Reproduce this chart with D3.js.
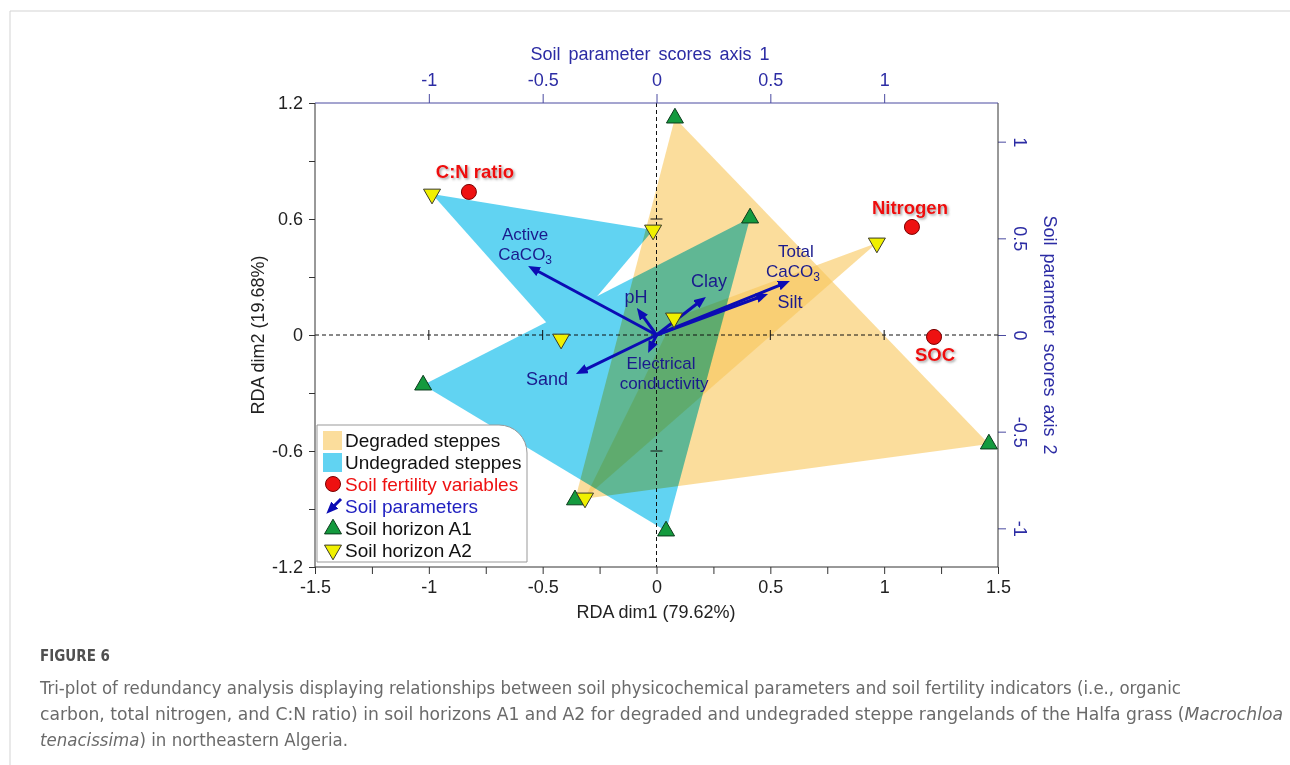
<!DOCTYPE html>
<html>
<head>
<meta charset="utf-8">
<script src="https://cdn.jsdelivr.net/npm/d3@7"></script>
<style>
  html, body { margin: 0; padding: 0; background: #fff; }
  svg { display: block; font-family: "Liberation Sans", Arial, sans-serif; }
</style>
</head>
<body>
<svg id="chart" width="1290" height="765"></svg>
<script>
// ---- RDA tri-plot data ----
// Site scores, soil horizon A1 (RDA dim1, dim2)
const horizonA1X = [0.081, 0.411, -1.025, -0.358, 0.042, 1.460];
const horizonA1Y = [1.122, 0.605, -0.259, -0.853, -1.014, -0.564];
// Site scores, soil horizon A2
const horizonA2X = [-0.986, -0.015, -0.419, 0.077, -0.314, 0.968];
const horizonA2Y = [0.729, 0.543, -0.021, 0.088, -0.843, 0.476];

// Hull membership per steppe type (indices into the horizon arrays)
const degradedA1 = [0, 5, 3];
const degradedA2 = [5, 3, 4];
const undegradedA1 = [2, 1, 4];
const undegradedA2 = [0, 1, 2];

// Soil fertility variables
const fertilityNames = ["C:N ratio", "Nitrogen", "SOC"];
const fertilityX = [-0.824, 1.122, 1.219];
const fertilityY = [0.740, 0.559, -0.010];

// Soil parameter scores (axis 1, axis 2)
const parameterNames = [["Active", "CaCO3"], ["pH"], ["Clay"], ["Total", "CaCO3"], ["Silt"], ["Sand"], ["Electrical", "conductivity"]];
const parameterX = [-0.564, -0.086, 0.217, 0.586, 0.490, -0.354, -0.037];
const parameterY = [0.357, 0.140, 0.197, 0.279, 0.212, -0.202, -0.093];

// Tick labels
const dim1Ticks = [-1.5, -1, -0.5, 0, 0.5, 1, 1.5];
const dim2Ticks = [-1.2, -0.6, 0, 0.6, 1.2];
const scoreTicks = [-1, -0.5, 0, 0.5, 1];

const legendItems = ["Degraded steppes", "Undegraded steppes", "Soil fertility variables", "Soil parameters", "Soil horizon A1", "Soil horizon A2"];

const captionTitle = "FIGURE 6";

// ---- layout ----
const svg = d3.select("#chart");
const plot = { left: 315, right: 998, top: 103, bottom: 567 };
const x = d3.scaleLinear().domain([-1.5, 1.5]).range([plot.left, plot.right]);
const y = d3.scaleLinear().domain([-1.2, 1.2]).range([plot.bottom, plot.top]);
// secondary (soil parameter score) axes share the same extent
const xs = d3.scaleLinear().domain([-1.5, 1.5]).range([plot.left, plot.right]);
const ys = d3.scaleLinear().domain([-1.2, 1.2]).range([plot.bottom, plot.top]);

const NAVY = "#2c2ca4";
const ARROW = "#0c0cb4";
const ARROW_TEXT = "#1a1a8c";
const ORANGE = "#f9c65a", ORANGE_OP = 0.6;
const BLUE = "#1ec0ec", BLUE_OP = 0.7;

const defs = svg.append("defs");
defs.append("marker")
  .attr("id", "arrowhead")
  .attr("viewBox", "0 0 12 10")
  .attr("refX", 4).attr("refY", 5)
  .attr("markerWidth", 12).attr("markerHeight", 10)
  .attr("markerUnits", "userSpaceOnUse")
  .attr("orient", "auto")
  .append("path").attr("d", "M0,0 L12,5 L0,10 Z").attr("fill", ARROW);
const shadow = defs.append("filter").attr("id", "soft").attr("x", "-20%").attr("y", "-40%").attr("width", "140%").attr("height", "180%");
shadow.append("feDropShadow").attr("dx", 1.5).attr("dy", 1.5).attr("stdDeviation", 1.2)
  .attr("flood-color", "#555").attr("flood-opacity", 0.55);

// card outline
svg.append("line").attr("x1", 10).attr("x2", 1290).attr("y1", 11).attr("y2", 11).attr("stroke", "#d3d3d3");
svg.append("line").attr("x1", 10).attr("x2", 10).attr("y1", 11).attr("y2", 765).attr("stroke", "#d3d3d3");

// ---- hulls ----
const hullPath = (idx, xs_, ys_) => "M" + idx.map(i => x(xs_[i]) + "," + y(ys_[i])).join("L") + "Z";

const orangeG = svg.append("g");
[hullPath(degradedA1, horizonA1X, horizonA1Y), hullPath(degradedA2, horizonA2X, horizonA2Y)].forEach(d => {
  orangeG.append("path").attr("d", d).attr("fill", ORANGE).attr("fill-opacity", ORANGE_OP);
});
const blueG = svg.append("g").attr("opacity", BLUE_OP).style("mix-blend-mode", "multiply");
[hullPath(undegradedA1, horizonA1X, horizonA1Y), hullPath(undegradedA2, horizonA2X, horizonA2Y)].forEach(d => {
  blueG.append("path").attr("d", d).attr("fill", BLUE);
});

// ---- zero reference lines with cross ticks ----
const ref = svg.append("g").attr("stroke", "#111").attr("stroke-width", 1);
ref.append("line").attr("x1", x(0)).attr("x2", x(0)).attr("y1", plot.top).attr("y2", plot.bottom).attr("stroke-dasharray", "4,3");
ref.append("line").attr("x1", plot.left).attr("x2", plot.right).attr("y1", y(0)).attr("y2", y(0)).attr("stroke-dasharray", "4,3");
[-1, -0.5, 0.5, 1].forEach(v => ref.append("line").attr("x1", x(v)).attr("x2", x(v)).attr("y1", y(0) - 5).attr("y2", y(0) + 5));
[-0.6, 0.6].forEach(v => ref.append("line").attr("x1", x(0) - 6).attr("x2", x(0) + 6).attr("y1", y(v)).attr("y2", y(v)));

// ---- axes ----
const near = (arr, v) => arr.some(t => Math.abs(t - v) < 1e-6);
const quarterTicks = d3.range(-6, 7).map(i => i * 0.25);
const leftTicks = d3.range(-4, 5).map(i => +(i * 0.3).toFixed(1));

const gB = svg.append("g").attr("transform", `translate(0,${plot.bottom})`)
  .call(d3.axisBottom(x).tickValues(quarterTicks).tickSize(7).tickPadding(6)
    .tickFormat(d => near(dim1Ticks, d) ? String(d) : ""));
const gL = svg.append("g").attr("transform", `translate(${plot.left},0)`)
  .call(d3.axisLeft(y).tickValues(leftTicks).tickSize(6).tickPadding(6)
    .tickFormat(d => near(dim2Ticks, d) ? String(d) : ""));
const gT = svg.append("g").attr("transform", `translate(0,${plot.top})`)
  .call(d3.axisTop(xs).tickValues(scoreTicks).tickSize(9).tickPadding(8).tickFormat(d => String(d)));
const gR = svg.append("g").attr("transform", `translate(${plot.right},0)`)
  .call(d3.axisRight(ys).tickValues(scoreTicks).tickSize(8).tickFormat(d => String(d)));

[gB, gL, gT, gR].forEach(g => {
  g.select(".domain").remove();
  g.selectAll("text").attr("font-size", 18).attr("font-family", "'Liberation Sans', Arial, sans-serif");
});
gB.selectAll("line").attr("stroke", "#333");
gB.selectAll("text").attr("fill", "#222");
gL.selectAll("line").attr("stroke", "#333");
gL.selectAll("text").attr("fill", "#222");
gT.selectAll("line").attr("stroke", "#4a4aa0");
gT.selectAll("text").attr("fill", NAVY);
gR.selectAll("line").attr("stroke", "#4a4aa0");
gR.selectAll("text").attr("fill", NAVY)
  .attr("x", null).attr("dy", "0.35em").attr("text-anchor", "middle")
  .attr("transform", "translate(22,0) rotate(90)");

// frame
svg.append("path").attr("fill", "none").attr("stroke", "#333")
  .attr("d", `M${plot.left},${plot.top}V${plot.bottom}H${plot.right}V${plot.top}`);
svg.append("line").attr("x1", plot.left).attr("x2", plot.right).attr("y1", plot.top).attr("y2", plot.top).attr("stroke", "#4a4aa0");

// axis titles
svg.append("text").attr("x", 656).attr("y", 618).attr("text-anchor", "middle").attr("font-size", 18).attr("fill", "#222").text("RDA dim1 (79.62%)");
svg.append("text").attr("transform", "translate(258,335) rotate(-90)").attr("dy", "0.35em").attr("text-anchor", "middle").attr("font-size", 18).attr("fill", "#222").text("RDA dim2 (19.68%)");
svg.append("text").attr("x", 650).attr("y", 60).attr("text-anchor", "middle").attr("font-size", 18).attr("word-spacing", 3).attr("fill", NAVY).text("Soil parameter scores axis 1");
svg.append("text").attr("transform", "translate(1050,335) rotate(90)").attr("dy", "0.35em").attr("text-anchor", "middle").attr("font-size", 18).attr("word-spacing", 3).attr("fill", NAVY).text("Soil parameter scores axis 2");

// ---- soil parameter arrows ----
const ox = xs(0), oy = ys(0);
const arrowG = svg.append("g");
parameterX.forEach((px, i) => {
  const tx = xs(px), ty = ys(parameterY[i]);
  const len = Math.hypot(tx - ox, ty - oy);
  const k = (len - 8) / len;
  arrowG.append("line")
    .attr("x1", ox).attr("y1", oy)
    .attr("x2", ox + (tx - ox) * k).attr("y2", oy + (ty - oy) * k)
    .attr("stroke", ARROW).attr("stroke-width", 3)
    .attr("marker-end", "url(#arrowhead)");
});

// label placement relative to arrow tips (first-line baseline)
const paramLabelOffset = [[-3, -26], [-1, -5], [3, -10], [6, -24], [22, 14], [-29, 11], [13, 16]];
const paramLineShift = [[0, 0], [0], [0], [0, -3], [0], [0], [0, 3]];
const LINE_GAP = 20;
parameterNames.forEach((lines, i) => {
  const tx = xs(parameterX[i]), ty = ys(parameterY[i]);
  const size = lines.length > 1 ? 17 : 18;
  lines.forEach((ln, j) => {
    const t = arrowG.append("text")
      .attr("x", tx + paramLabelOffset[i][0] + paramLineShift[i][j])
      .attr("y", ty + paramLabelOffset[i][1] + j * LINE_GAP)
      .attr("text-anchor", "middle").attr("font-size", size).attr("fill", ARROW_TEXT);
    if (ln === "CaCO3") {
      t.append("tspan").text("CaCO");
      t.append("tspan").attr("font-size", 12).attr("dy", 4).text("3");
    } else {
      t.text(ln);
    }
  });
});

// ---- site markers ----
const tri = d3.symbol().type(d3.symbolTriangle).size(125)();
const markG = svg.append("g");
horizonA1X.forEach((v, i) => {
  markG.append("path").attr("d", tri)
    .attr("transform", `translate(${x(v)},${y(horizonA1Y[i])})`)
    .attr("fill", "#149a3e").attr("stroke", "#0b3b1c").attr("stroke-width", 1);
});
horizonA2X.forEach((v, i) => {
  markG.append("path").attr("d", tri)
    .attr("transform", `translate(${x(v)},${y(horizonA2Y[i])}) rotate(180)`)
    .attr("fill", "#f0f000").attr("stroke", "#3a3a2a").attr("stroke-width", 1);
});

// ---- fertility variables ----
const fertLabelOffset = [[6, -14], [-2, -13], [1, 24]];
fertilityX.forEach((v, i) => {
  const cx = x(v), cy = y(fertilityY[i]);
  markG.append("circle").attr("cx", cx).attr("cy", cy).attr("r", 7.5)
    .attr("fill", "#ee1111").attr("stroke", "#7a0000").attr("stroke-width", 1);
  markG.append("text").attr("x", cx + fertLabelOffset[i][0]).attr("y", cy + fertLabelOffset[i][1])
    .attr("text-anchor", "middle").attr("font-size", 18.5).attr("font-weight", "bold")
    .attr("fill", "#ee1111").attr("filter", "url(#soft)").text(fertilityNames[i]);
});

// ---- legend ----
const L = { x0: 317, y0: 425, x1: 527, y1: 562, r: 28 };
const lg = svg.append("g");
lg.append("path")
  .attr("d", `M${L.x0},${L.y0}H${L.x1 - L.r}A${L.r},${L.r} 0 0 1 ${L.x1},${L.y0 + L.r}V${L.y1}H${L.x0}Z`)
  .attr("fill", "#fff").attr("stroke", "#999").attr("stroke-width", 1);
const rowY = i => L.y0 + 15 + i * 22;   // vertical centre of each row
const iconX = 333, textX = 345;
lg.append("rect").attr("x", iconX - 10).attr("y", rowY(0) - 9).attr("width", 19).attr("height", 19)
  .attr("fill", ORANGE).attr("fill-opacity", ORANGE_OP);
lg.append("rect").attr("x", iconX - 10).attr("y", rowY(1) - 9).attr("width", 19).attr("height", 19)
  .attr("fill", BLUE).attr("fill-opacity", BLUE_OP);
lg.append("circle").attr("cx", iconX).attr("cy", rowY(2)).attr("r", 7.5)
  .attr("fill", "#ee1111").attr("stroke", "#7a0000");
lg.append("line").attr("x1", iconX + 8).attr("y1", rowY(3) - 7).attr("x2", iconX - 1).attr("y2", rowY(3) + 2)
  .attr("stroke", ARROW).attr("stroke-width", 3).attr("marker-end", "url(#arrowhead)");
lg.append("path").attr("d", tri).attr("transform", `translate(${iconX},${rowY(4) + 1})`)
  .attr("fill", "#149a3e").attr("stroke", "#0b3b1c");
lg.append("path").attr("d", tri).attr("transform", `translate(${iconX},${rowY(5)}) rotate(180)`)
  .attr("fill", "#f0f000").attr("stroke", "#3a3a2a");
const legendColors = ["#111", "#111", "#ee1111", "#1f1fc0", "#111", "#111"];
legendItems.forEach((t, i) => {
  lg.append("text").attr("x", textX).attr("y", rowY(i)).attr("dy", "0.35em")
    .attr("font-size", 19).attr("fill", legendColors[i]).text(t);
});

// ---- caption ----
const cap = svg.append("g").attr("font-family", "'Liberation Sans Narrow', 'DejaVu Sans Condensed', 'Open Sans', sans-serif");
cap.append("text").attr("x", 40).attr("y", 661).attr("font-size", 16).attr("font-weight", 600)
  .attr("fill", "#505050").attr("textLength", 70).attr("lengthAdjust", "spacingAndGlyphs").text(captionTitle);
const capLines = [
  { parts: [["Tri-plot of redundancy analysis displaying relationships between soil physicochemical parameters and soil fertility indicators (i.e., organic", false]], w: 1141, y: 694 },
  { parts: [["carbon, total nitrogen, and C:N ratio) in soil horizons A1 and A2 for degraded and undegraded steppe rangelands of the Halfa grass (", false], ["Macrochloa", true]], w: 1243, y: 720 },
  { parts: [["tenacissima", true], [") in northeastern Algeria.", false]], w: 308, y: 746 }
];
capLines.forEach(l => {
  const t = cap.append("text").attr("x", 40).attr("y", l.y).attr("font-size", 17).attr("fill", "#6a6a6a")
    .attr("textLength", l.w).attr("lengthAdjust", "spacingAndGlyphs");
  l.parts.forEach(p => t.append("tspan").attr("font-style", p[1] ? "italic" : "normal").text(p[0]));
});
</script>
</body>
</html>
